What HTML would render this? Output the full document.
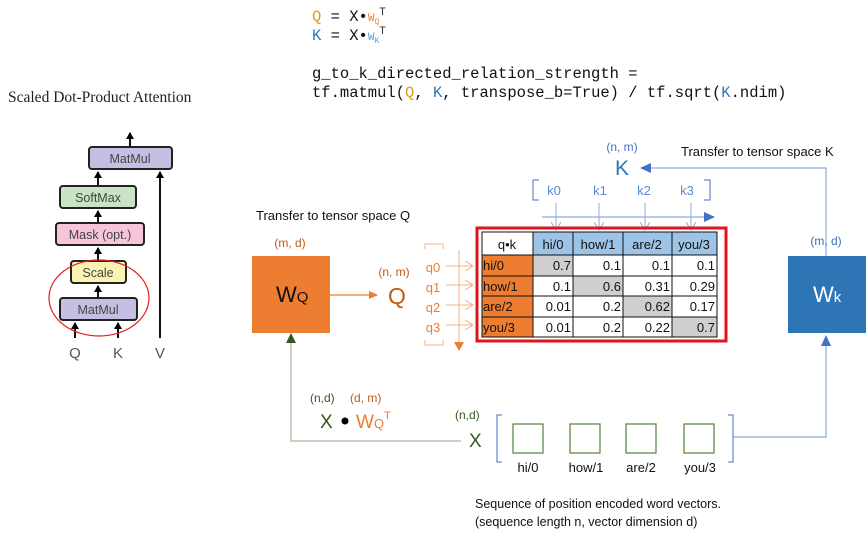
<!DOCTYPE html>
<html><head><meta charset="utf-8"><style>
html,body{margin:0;padding:0;background:#fff}
svg{display:block}
.m{font-family:"Liberation Mono",monospace;font-size:15.5px}
.s{font-family:"Liberation Sans",sans-serif}
</style></head><body>
<svg width="866" height="541" viewBox="0 0 866 541" xmlns="http://www.w3.org/2000/svg">
<defs>
<marker id="ab" markerWidth="8" markerHeight="8" refX="6" refY="4" orient="auto" markerUnits="userSpaceOnUse"><path d="M0,0 L7,4 L0,8 z" fill="#000"/></marker>
<marker id="ao" markerWidth="10" markerHeight="10" refX="8" refY="5" orient="auto" markerUnits="userSpaceOnUse"><path d="M0,1 L9,5 L0,9 z" fill="#ED7D31"/></marker>
<marker id="ao2" markerWidth="10" markerHeight="10" refX="8" refY="5" orient="auto" markerUnits="userSpaceOnUse"><path d="M0,0 L8,5 L0,10" fill="none" stroke="#F4B183" stroke-width="1"/></marker>
<marker id="abl" markerWidth="12" markerHeight="10" refX="10" refY="5" orient="auto" markerUnits="userSpaceOnUse"><path d="M0,0 L11,5 L0,10 z" fill="#4472C4"/></marker>
<marker id="abl2" markerWidth="10" markerHeight="10" refX="8" refY="5" orient="auto" markerUnits="userSpaceOnUse"><path d="M0,0 L8,5 L0,10" fill="none" stroke="#8FAADC" stroke-width="1"/></marker>
<marker id="ag" markerWidth="10" markerHeight="10" refX="8" refY="5" orient="auto" markerUnits="userSpaceOnUse"><path d="M0,0 L9,5 L0,10 z" fill="#375623"/></marker>
</defs>

<!-- Left attention diagram -->
<text x="8" y="102" font-family="Liberation Serif,serif" font-size="15.5" fill="#222">Scaled Dot-Product Attention</text>
<g stroke="#111" stroke-width="2" fill="none">
<line x1="130" y1="147" x2="130" y2="133" marker-end="url(#ab)"/>
<line x1="98" y1="186" x2="98" y2="172" marker-end="url(#ab)"/>
<line x1="98" y1="223" x2="98" y2="211" marker-end="url(#ab)"/>
<line x1="98" y1="261" x2="98" y2="248" marker-end="url(#ab)"/>
<line x1="98" y1="298" x2="98" y2="286" marker-end="url(#ab)"/>
<line x1="75" y1="338" x2="75" y2="323" marker-end="url(#ab)"/>
<line x1="118" y1="338" x2="118" y2="323" marker-end="url(#ab)"/>
<line x1="160" y1="338" x2="160" y2="172" marker-end="url(#ab)"/>
</g>
<g stroke="#222" stroke-width="2">
<rect x="89" y="147" width="83" height="22" rx="3" fill="#C7BFE3"/>
<rect x="60" y="186" width="76" height="22" rx="3" fill="#C9E4C5"/>
<rect x="56" y="223" width="88" height="22" rx="3" fill="#F6C5D9"/>
<rect x="71" y="261" width="55" height="22" rx="3" fill="#FAF3B4"/>
<rect x="60" y="298" width="77" height="22" rx="3" fill="#C7BFE3"/>
</g>
<g class="s" font-size="12.5" fill="#444" text-anchor="middle">
<text x="130" y="163">MatMul</text>
<text x="98" y="202">SoftMax</text>
<text x="100" y="239">Mask (opt.)</text>
<text x="98" y="277">Scale</text>
<text x="98" y="314">MatMul</text>
</g>
<g class="s" font-size="15" fill="#555" text-anchor="middle">
<text x="75" y="358">Q</text><text x="118" y="358">K</text><text x="160" y="358">V</text>
</g>
<ellipse cx="99" cy="298" rx="50" ry="38" fill="none" stroke="#E02020" stroke-width="1.2"/>

<!-- Code -->
<g class="m" fill="#111">
<text x="312" y="21"><tspan fill="#D4A017">Q</tspan> = X•<tspan fill="#ED7D31" font-size="11">W<tspan font-size="8" dy="3">Q</tspan><tspan dy="-9" fill="#333">T</tspan></tspan></text>
<text x="312" y="40"><tspan fill="#2E75B6">K</tspan> = X•<tspan fill="#4F9BD8" font-size="11">W<tspan font-size="8" dy="3">K</tspan><tspan dy="-9" fill="#333">T</tspan></tspan></text>
<text x="312" y="78">g_to_k_directed_relation_strength =</text>
<text x="312" y="97">tf.matmul(<tspan fill="#D4A017">Q</tspan>, <tspan fill="#2E75B6">K</tspan>, transpose_b=True) / tf.sqrt(<tspan fill="#2E75B6">K</tspan>.ndim)</text>
</g>

<!-- WQ -->
<text x="256" y="220" class="s" font-size="13" fill="#111">Transfer to tensor space Q</text>
<text x="290" y="247" class="s" font-size="12" fill="#C55A11" text-anchor="middle">(m, d)</text>
<rect x="252" y="256" width="78" height="77" fill="#ED7D31"/>
<text x="276" y="302" class="s" font-size="22" fill="#111">W<tspan font-size="15">Q</tspan></text>
<line x1="330" y1="295" x2="377" y2="295" stroke="#ED7D31" stroke-width="1.3" marker-end="url(#ao)"/>
<text x="394" y="276" class="s" font-size="12" fill="#C55A11" text-anchor="middle">(n, m)</text>
<text x="397" y="304" class="s" font-size="23" fill="#C55A11" text-anchor="middle">Q</text>

<!-- q bracket -->
<path d="M425,249 V244 H443 V249 M425,340 V345 H443 V340" fill="none" stroke="#F4B183" stroke-width="1"/>
<line x1="459" y1="250" x2="459" y2="350" stroke="#F4B183" stroke-width="1"/>
<path d="M454,342 L459,351 L464,342 z" fill="#ED7D31"/>
<g class="s" font-size="13" fill="#ED7D31" text-anchor="middle">
<text x="433" y="272">q0</text><text x="433" y="292">q1</text><text x="433" y="312">q2</text><text x="433" y="332">q3</text>
</g>
<g stroke="#F4B183" stroke-width="1">
<line x1="446" y1="266" x2="473" y2="266" marker-end="url(#ao2)"/>
<line x1="446" y1="285" x2="473" y2="285" marker-end="url(#ao2)"/>
<line x1="446" y1="305" x2="473" y2="305" marker-end="url(#ao2)"/>
<line x1="446" y1="325" x2="473" y2="325" marker-end="url(#ao2)"/>
</g>

<!-- K top -->
<text x="622" y="151" class="s" font-size="12" fill="#4472C4" text-anchor="middle">(n, m)</text>
<text x="622" y="175" class="s" font-size="21" fill="#2E75B6" text-anchor="middle">K</text>
<polyline points="826,256 826,168 641,168" fill="none" stroke="#8FAADC" stroke-width="1.2" marker-end="url(#abl)"/>
<text x="681" y="156" class="s" font-size="13" fill="#111">Transfer to tensor space K</text>
<path d="M539,180 H533 V200 H539 M704,180 H710 V200 H704" fill="none" stroke="#4472C4" stroke-width="1"/>
<g class="s" font-size="13" fill="#5B8BD0" text-anchor="middle">
<text x="554" y="195">k0</text><text x="600" y="195">k1</text><text x="644" y="195">k2</text><text x="687" y="195">k3</text>
</g>
<line x1="542" y1="217" x2="714" y2="217" stroke="#8FAADC" stroke-width="1.2" marker-end="url(#abl)"/>
<g stroke="#8FAADC" stroke-width="1">
<line x1="556" y1="203" x2="556" y2="230" marker-end="url(#abl2)"/>
<line x1="599" y1="203" x2="599" y2="230" marker-end="url(#abl2)"/>
<line x1="645" y1="203" x2="645" y2="230" marker-end="url(#abl2)"/>
<line x1="691" y1="203" x2="691" y2="230" marker-end="url(#abl2)"/>
</g>

<!-- Table -->
<rect x="477" y="228" width="249" height="113" fill="none" stroke="#E3131B" stroke-width="3"/>
<rect x="533" y="232" width="184" height="23" fill="#9DC3E6"/>
<rect x="482" y="255" width="51" height="82" fill="#ED7D31"/>
<rect x="533" y="255" width="40" height="21" fill="#D0CECE"/>
<rect x="573" y="276" width="50" height="20" fill="#D0CECE"/>
<rect x="623" y="296" width="49" height="21" fill="#D0CECE"/>
<rect x="672" y="317" width="45" height="20" fill="#D0CECE"/>
<g stroke="#111" stroke-width="1" fill="none">
<rect x="482" y="232" width="235" height="105"/>
<line x1="533" y1="232" x2="533" y2="337"/><line x1="573" y1="232" x2="573" y2="337"/>
<line x1="623" y1="232" x2="623" y2="337"/><line x1="672" y1="232" x2="672" y2="337"/>
<line x1="482" y1="255" x2="717" y2="255"/><line x1="482" y1="276" x2="717" y2="276"/>
<line x1="482" y1="296" x2="717" y2="296"/><line x1="482" y1="317" x2="717" y2="317"/>
</g>
<g class="s" font-size="13" fill="#111">
<text x="507" y="249" text-anchor="middle">q•k</text>
<text x="553" y="249" text-anchor="middle">hi/0</text><text x="598" y="249" text-anchor="middle">how/1</text>
<text x="647" y="249" text-anchor="middle">are/2</text><text x="694" y="249" text-anchor="middle">you/3</text>
<text x="483" y="270">hi/0</text><text x="483" y="291">how/1</text><text x="483" y="311">are/2</text><text x="483" y="332">you/3</text>
</g>
<g class="s" font-size="13" fill="#111" text-anchor="end">
<text x="571" y="270">0.7</text><text x="621" y="270">0.1</text><text x="670" y="270">0.1</text><text x="715" y="270">0.1</text>
<text x="571" y="291">0.1</text><text x="621" y="291">0.6</text><text x="670" y="291">0.31</text><text x="715" y="291">0.29</text>
<text x="571" y="311">0.01</text><text x="621" y="311">0.2</text><text x="670" y="311">0.62</text><text x="715" y="311">0.17</text>
<text x="571" y="332">0.01</text><text x="621" y="332">0.2</text><text x="670" y="332">0.22</text><text x="715" y="332">0.7</text>
</g>

<!-- WK -->
<text x="826" y="245" class="s" font-size="12" fill="#2E75B6" text-anchor="middle">(m, d)</text>
<rect x="788" y="256" width="78" height="77" fill="#2E75B6"/>
<text x="813" y="302" class="s" font-size="22" fill="#fff">W<tspan font-size="15">k</tspan></text>

<!-- Bottom -->
<polyline points="733,437 826,437 826,336" fill="none" stroke="#8FAADC" stroke-width="1.2" marker-end="url(#abl)"/>
<polyline points="461,441 291,441 291,336" fill="none" stroke="#A9B89B" stroke-width="1.2"/>
<path d="M286,343 L291,333 L296,343 z" fill="#375623"/>
<text x="310" y="402" class="s" font-size="12" fill="#385723">(n,d)</text>
<text x="350" y="402" class="s" font-size="12" fill="#C55A11">(d, m)</text>
<text x="320" y="428" class="s" font-size="19" fill="#385723">X</text>
<circle cx="345" cy="421" r="3.5" fill="#000"/>
<text x="356" y="428" class="s" font-size="19" fill="#ED7D31">W<tspan font-size="13">Q</tspan><tspan font-size="11" dy="-9">T</tspan></text>
<text x="455" y="419" class="s" font-size="12" fill="#385723">(n,d)</text>
<text x="469" y="447" class="s" font-size="19" fill="#385723">X</text>
<path d="M502,415 H497 V462 H502 M728,415 H733 V462 H728" fill="none" stroke="#4472C4" stroke-width="1"/>
<g fill="none" stroke="#548235" stroke-width="1.2">
<rect x="513" y="424" width="30" height="29"/><rect x="570" y="424" width="30" height="29"/>
<rect x="626" y="424" width="30" height="29"/><rect x="684" y="424" width="30" height="29"/>
</g>
<g class="s" font-size="13" fill="#111" text-anchor="middle">
<text x="528" y="472">hi/0</text><text x="586" y="472">how/1</text><text x="641" y="472">are/2</text><text x="700" y="472">you/3</text>
</g>
<text x="475" y="508" class="s" font-size="12.5" fill="#111">Sequence of position encoded word vectors.</text>
<text x="475" y="526" class="s" font-size="12.5" fill="#111">(sequence length n, vector dimension d)</text>
</svg>
</body></html>
